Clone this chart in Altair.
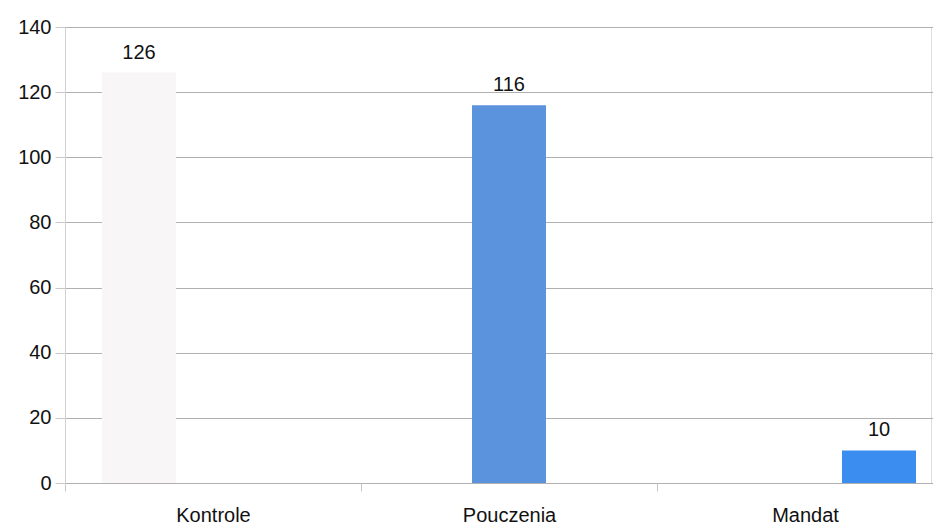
import altair as alt
import pandas as pd

categories = ["Kontrole", "Pouczenia", "Mandat"]
series = ["Kontrole", "Pouczenia", "Mandat"]
values = [126, 116, 10]
colors = ["#f8f6f6", "#5b93dc", "#3b8def"]

rows = []
for c, s, v in zip(categories, series, values):
    rows.append({"kat": c, "seria": s, "wartosc": v})
df = pd.DataFrame(rows)

FONT = "Liberation Sans"

base = alt.Chart(df).encode(
    x=alt.X("kat:N", sort=categories, title=None,
            scale=alt.Scale(range=[0, 888], paddingInner=0, paddingOuter=0),
            axis=alt.Axis(labelAngle=0, labelFontSize=20, labelFont=FONT,
                          labelColor="#111111", labelPadding=14, tickBand="extent",
                          tickSize=8, tickColor="#c8c8c8", domain=False)),
    xOffset=alt.XOffset("seria:N", sort=series,
                        scale=alt.Scale(paddingInner=0, paddingOuter=0.5)),
)

bars = base.mark_bar().encode(
    y=alt.Y("wartosc:Q", title=None,
            scale=alt.Scale(domain=[0, 140]),
            axis=alt.Axis(values=[0, 20, 40, 60, 80, 100, 120, 140],
                          labelFontSize=20, labelFont=FONT, labelColor="#111111",
                          tickSize=10, tickColor="#c8c8c8", labelPadding=4,
                          gridColor="#b0b0b0", gridWidth=1, domainColor="#d0d0d0")),
    color=alt.Color("seria:N", sort=series,
                    scale=alt.Scale(domain=series, range=colors), legend=None),
)

labels = base.mark_text(dy=-20, fontSize=20, font=FONT, color="#111111").encode(
    y=alt.Y("wartosc:Q"),
    text=alt.Text("wartosc:Q"),
)

chart = (bars + labels).properties(
    width=866, height=456,
    autosize=alt.AutoSizeParams(type="none"),
    padding={"left": 57, "top": 19, "right": 2, "bottom": 48},
).configure_view(stroke=None).configure(background="white")

chart.save("out.html", embed_options={"renderer": "svg", "actions": False})
